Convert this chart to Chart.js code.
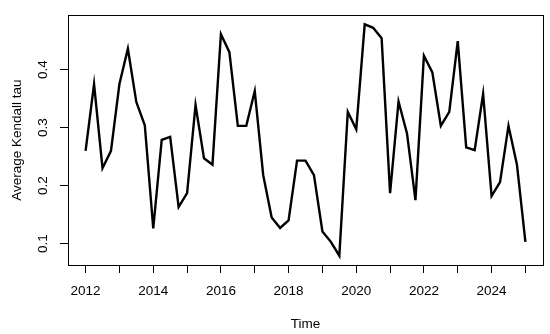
<!DOCTYPE html>
<html>
<head>
<meta charset="utf-8">
<script src="https://cdn.jsdelivr.net/npm/chart.js@4/dist/chart.umd.min.js"></script>
<style>
  html, body { margin: 0; padding: 0; background: #fff; }
  #wrap { width: 550px; height: 334px; }
</style>
</head>
<body>
<div id="wrap"><canvas id="tauChart" width="550" height="334"></canvas></div>
<script>
// quarterly observations, 2012 Q1 .. 2025 Q1
const startYear = 2012;
const tauValues = [
  0.260, 0.375, 0.230, 0.260, 0.375, 0.436, 0.344, 0.304,
  0.126, 0.279, 0.284, 0.163, 0.187, 0.339, 0.247, 0.236,
  0.461, 0.430, 0.303, 0.303, 0.363, 0.218, 0.145, 0.127,
  0.140, 0.243, 0.243, 0.218, 0.121, 0.103, 0.079, 0.327,
  0.297, 0.478, 0.472, 0.454, 0.187, 0.345, 0.290, 0.175,
  0.424, 0.395, 0.303, 0.327, 0.449, 0.266, 0.261, 0.358,
  0.182, 0.206, 0.303, 0.236, 0.103
];
const timePoints = tauValues.map((v, i) => startYear + i / 4);
const xLabelYears = [2012, 2014, 2016, 2018, 2020, 2022, 2024];
const yTicks = [0.1, 0.2, 0.3, 0.4];

const points = tauValues.map((v, i) => ({ x: timePoints[i], y: v }));

// R-style 4% padding of the data range
const xMin = timePoints[0], xMax = timePoints[timePoints.length - 1];
const yMin = Math.min(...tauValues), yMax = Math.max(...tauValues);
const xPad = (xMax - xMin) * 0.04, yPad = (yMax - yMin) * 0.04;

const tickFont = { family: 'Liberation Sans, Arial, sans-serif', size: 13.5 };

// closed box around the plot region, like R's box()
const boxPlugin = {
  id: 'box',
  afterDraw(chart) {
    const { ctx, chartArea: a } = chart;
    ctx.save();
    ctx.strokeStyle = '#000';
    ctx.lineWidth = 1;
    ctx.strokeRect(Math.round(a.left) + 0.5, Math.round(a.top) + 0.5,
      Math.round(a.right - a.left), Math.round(a.bottom - a.top));
    ctx.restore();
  }
};

new Chart(document.getElementById('tauChart'), {
  type: 'line',
  data: {
    datasets: [{
      data: points,
      borderColor: '#000',
      borderWidth: 2.4,
      pointRadius: 0,
      tension: 0,
      fill: false,
    }],
  },
  options: {
    responsive: false,
    animation: false,
    events: [],
    layout: { padding: { top: 5, right: 7, left: 0, bottom: 0 } },
    plugins: { legend: { display: false }, tooltip: { enabled: false } },
    scales: {
      x: {
        type: 'linear',
        min: xMin - xPad,
        max: xMax + xPad,
        afterFit: (s) => { s.height = 69; },
        grid: { drawOnChartArea: false, color: '#000', tickLength: 8, tickWidth: 1 },
        border: { color: '#000' },
        ticks: {
          stepSize: 1,
          includeBounds: false,
          autoSkip: false,
          maxRotation: 0,
          color: '#000',
          font: tickFont,
          padding: 10,
          callback: (v) => xLabelYears.includes(Math.round(v)) ? String(Math.round(v)) : '',
        },
        title: { display: true, text: 'Time', color: '#000', font: tickFont, padding: { top: 0, bottom: 2 } },
      },
      y: {
        min: yMin - yPad,
        max: yMax + yPad,
        afterFit: (s) => { s.width = 68; },
        grid: { drawOnChartArea: false, color: '#000', tickLength: 8, tickWidth: 1 },
        border: { color: '#000' },
        afterBuildTicks: (s) => { s.ticks = yTicks.map(v => ({ value: v })); },
        ticks: {
          color: '#000',
          font: tickFont,
          minRotation: 90,
          maxRotation: 90,
          crossAlign: 'center',
          padding: 7,
          callback: (v) => v.toFixed(1),
        },
        title: { display: true, text: 'Average Kendall tau', color: '#000', font: tickFont, padding: { top: 9, bottom: 0 } },
      },
    },
  },
  plugins: [boxPlugin],
});
</script>
</body>
</html>
